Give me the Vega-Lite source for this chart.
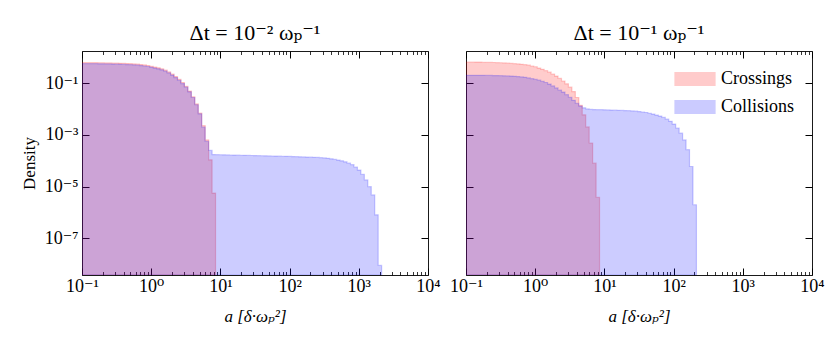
{
"$schema": "https://vega.github.io/schema/vega-lite/v6.json",
"background": "white",
"padding": {"left": 19, "top": 21, "right": 5, "bottom": 5},
"bounds": "flush",
"spacing": 38,
"config": {
  "font": "Liberation Serif, DejaVu Serif, serif",
  "view": {"stroke": "#1a1a1a", "strokeWidth": 1},
  "axis": {"domain": false, "grid": false, "labelFont": "Liberation Serif, DejaVu Serif, serif", "labelFontSize": 18, "labelColor": "#000", "titleFont": "Liberation Serif, DejaVu Serif, serif", "titleFontSize": 17, "titleFontWeight": "normal", "titleColor": "#000", "tickColor": "#000"},
  "legend": {"labelFont": "Liberation Serif, DejaVu Serif, serif"},
  "title": {"font": "Liberation Serif, DejaVu Serif, serif", "fontSize": 22, "fontWeight": "normal", "color": "#000", "frame": "group", "offset": 6}
},
"datasets": {"hist": [
{"p":"L","s":"Crossings","a":0.0955,"d":0.631},{"p":"L","s":"Crossings","a":0.10715,"d":0.631},{"p":"L","s":"Crossings","a":0.12023,"d":0.631},{"p":"L","s":"Crossings","a":0.1349,"d":0.631},{"p":"L","s":"Crossings","a":0.15136,"d":0.631},{"p":"L","s":"Crossings","a":0.16982,"d":0.6237},{"p":"L","s":"Crossings","a":0.19055,"d":0.6237},{"p":"L","s":"Crossings","a":0.2138,"d":0.6166},{"p":"L","s":"Crossings","a":0.23988,"d":0.6166},{"p":"L","s":"Crossings","a":0.26915,"d":0.6095},{"p":"L","s":"Crossings","a":0.302,"d":0.6026},{"p":"L","s":"Crossings","a":0.33884,"d":0.5957},{"p":"L","s":"Crossings","a":0.38019,"d":0.5888},{"p":"L","s":"Crossings","a":0.42658,"d":0.5821},{"p":"L","s":"Crossings","a":0.47863,"d":0.5754},{"p":"L","s":"Crossings","a":0.53703,"d":0.5623},{"p":"L","s":"Crossings","a":0.60256,"d":0.5495},{"p":"L","s":"Crossings","a":0.67608,"d":0.5309},{"p":"L","s":"Crossings","a":0.75858,"d":0.5129},{"p":"L","s":"Crossings","a":0.85114,"d":0.4898},{"p":"L","s":"Crossings","a":0.95499,"d":0.4571},{"p":"L","s":"Crossings","a":1.0715,"d":0.4266},{"p":"L","s":"Crossings","a":1.2023,"d":0.3981},{"p":"L","s":"Crossings","a":1.349,"d":0.3631},{"p":"L","s":"Crossings","a":1.5136,"d":0.3236},{"p":"L","s":"Crossings","a":1.6982,"d":0.2754},{"p":"L","s":"Crossings","a":1.9055,"d":0.2291},{"p":"L","s":"Crossings","a":2.138,"d":0.182},{"p":"L","s":"Crossings","a":2.3988,"d":0.1413},{"p":"L","s":"Crossings","a":2.6915,"d":0.1072},{"p":"L","s":"Crossings","a":3.02,"d":0.07586},{"p":"L","s":"Crossings","a":3.3884,"d":0.05012},{"p":"L","s":"Crossings","a":3.8019,"d":0.0302},{"p":"L","s":"Crossings","a":4.2658,"d":0.01585},{"p":"L","s":"Crossings","a":4.7863,"d":0.007079},{"p":"L","s":"Crossings","a":5.3703,"d":0.002291},{"p":"L","s":"Crossings","a":6.0256,"d":0.0006457},{"p":"L","s":"Crossings","a":6.7608,"d":0.0001096},{"p":"L","s":"Crossings","a":7.5858,"d":0.000005623},{"p":"L","s":"Crossings","a":8.5114,"d":0.000005623},
{"p":"L","s":"Collisions","a":0.0955,"d":0.5754},{"p":"L","s":"Collisions","a":0.10715,"d":0.5754},{"p":"L","s":"Collisions","a":0.12023,"d":0.5754},{"p":"L","s":"Collisions","a":0.1349,"d":0.5754},{"p":"L","s":"Collisions","a":0.15136,"d":0.5754},{"p":"L","s":"Collisions","a":0.16982,"d":0.5689},{"p":"L","s":"Collisions","a":0.19055,"d":0.5689},{"p":"L","s":"Collisions","a":0.2138,"d":0.5623},{"p":"L","s":"Collisions","a":0.23988,"d":0.5623},{"p":"L","s":"Collisions","a":0.26915,"d":0.5559},{"p":"L","s":"Collisions","a":0.302,"d":0.5495},{"p":"L","s":"Collisions","a":0.33884,"d":0.5433},{"p":"L","s":"Collisions","a":0.38019,"d":0.537},{"p":"L","s":"Collisions","a":0.42658,"d":0.5309},{"p":"L","s":"Collisions","a":0.47863,"d":0.5248},{"p":"L","s":"Collisions","a":0.53703,"d":0.5129},{"p":"L","s":"Collisions","a":0.60256,"d":0.5012},{"p":"L","s":"Collisions","a":0.67608,"d":0.4842},{"p":"L","s":"Collisions","a":0.75858,"d":0.4677},{"p":"L","s":"Collisions","a":0.85114,"d":0.4467},{"p":"L","s":"Collisions","a":0.95499,"d":0.4169},{"p":"L","s":"Collisions","a":1.0715,"d":0.389},{"p":"L","s":"Collisions","a":1.2023,"d":0.3631},{"p":"L","s":"Collisions","a":1.349,"d":0.3311},{"p":"L","s":"Collisions","a":1.5136,"d":0.2951},{"p":"L","s":"Collisions","a":1.6982,"d":0.2512},{"p":"L","s":"Collisions","a":1.9055,"d":0.2089},{"p":"L","s":"Collisions","a":2.138,"d":0.166},{"p":"L","s":"Collisions","a":2.3988,"d":0.1288},{"p":"L","s":"Collisions","a":2.6915,"d":0.09772},{"p":"L","s":"Collisions","a":3.02,"d":0.07079},{"p":"L","s":"Collisions","a":3.3884,"d":0.04677},{"p":"L","s":"Collisions","a":3.8019,"d":0.02818},{"p":"L","s":"Collisions","a":4.2658,"d":0.01479},{"p":"L","s":"Collisions","a":4.7863,"d":0.006607},{"p":"L","s":"Collisions","a":5.3703,"d":0.001995},{"p":"L","s":"Collisions","a":6.0256,"d":0.0005623},{"p":"L","s":"Collisions","a":6.7608,"d":0.0002512},{"p":"L","s":"Collisions","a":7.5858,"d":0.0001738},{"p":"L","s":"Collisions","a":8.5114,"d":0.0001726},{"p":"L","s":"Collisions","a":9.5499,"d":0.0001714},{"p":"L","s":"Collisions","a":10.715,"d":0.0001698},{"p":"L","s":"Collisions","a":12.023,"d":0.0001687},{"p":"L","s":"Collisions","a":13.49,"d":0.0001675},{"p":"L","s":"Collisions","a":15.136,"d":0.0001663},{"p":"L","s":"Collisions","a":16.982,"d":0.0001652},{"p":"L","s":"Collisions","a":19.055,"d":0.0001641},{"p":"L","s":"Collisions","a":21.38,"d":0.0001629},{"p":"L","s":"Collisions","a":23.988,"d":0.0001618},{"p":"L","s":"Collisions","a":26.915,"d":0.0001603},{"p":"L","s":"Collisions","a":30.2,"d":0.0001592},{"p":"L","s":"Collisions","a":33.884,"d":0.0001581},{"p":"L","s":"Collisions","a":38.019,"d":0.000157},{"p":"L","s":"Collisions","a":42.658,"d":0.000156},{"p":"L","s":"Collisions","a":47.863,"d":0.0001549},{"p":"L","s":"Collisions","a":53.703,"d":0.0001535},{"p":"L","s":"Collisions","a":60.256,"d":0.0001524},{"p":"L","s":"Collisions","a":67.608,"d":0.0001514},{"p":"L","s":"Collisions","a":75.858,"d":0.0001503},{"p":"L","s":"Collisions","a":85.114,"d":0.0001493},{"p":"L","s":"Collisions","a":95.499,"d":0.0001479},{"p":"L","s":"Collisions","a":107.15,"d":0.0001462},{"p":"L","s":"Collisions","a":120.23,"d":0.0001445},{"p":"L","s":"Collisions","a":134.9,"d":0.0001429},{"p":"L","s":"Collisions","a":151.36,"d":0.0001413},{"p":"L","s":"Collisions","a":169.82,"d":0.0001396},{"p":"L","s":"Collisions","a":190.55,"d":0.000138},{"p":"L","s":"Collisions","a":213.8,"d":0.0001365},{"p":"L","s":"Collisions","a":239.88,"d":0.0001349},{"p":"L","s":"Collisions","a":269.15,"d":0.0001318},{"p":"L","s":"Collisions","a":302,"d":0.0001288},{"p":"L","s":"Collisions","a":338.84,"d":0.0001245},{"p":"L","s":"Collisions","a":380.19,"d":0.0001189},{"p":"L","s":"Collisions","a":426.58,"d":0.0001135},{"p":"L","s":"Collisions","a":478.63,"d":0.0001072},{"p":"L","s":"Collisions","a":537.03,"d":0.0001},{"p":"L","s":"Collisions","a":602.56,"d":0.0000912},{"p":"L","s":"Collisions","a":676.08,"d":0.00008128},{"p":"L","s":"Collisions","a":758.58,"d":0.00007079},{"p":"L","s":"Collisions","a":851.14,"d":0.00005754},{"p":"L","s":"Collisions","a":954.99,"d":0.00004365},{"p":"L","s":"Collisions","a":1071.5,"d":0.0000302},{"p":"L","s":"Collisions","a":1202.3,"d":0.0000182},{"p":"L","s":"Collisions","a":1349,"d":0.00001},{"p":"L","s":"Collisions","a":1513.6,"d":0.000004786},{"p":"L","s":"Collisions","a":1698.2,"d":8.128e-7},{"p":"L","s":"Collisions","a":1905.5,"d":8.913e-9},{"p":"L","s":"Collisions","a":2138,"d":8.913e-9},
{"p":"R","s":"Crossings","a":0.0955,"d":0.668},{"p":"R","s":"Crossings","a":0.10715,"d":0.668},{"p":"R","s":"Crossings","a":0.12023,"d":0.668},{"p":"R","s":"Crossings","a":0.1349,"d":0.6607},{"p":"R","s":"Crossings","a":0.15136,"d":0.6607},{"p":"R","s":"Crossings","a":0.16982,"d":0.6531},{"p":"R","s":"Crossings","a":0.19055,"d":0.6457},{"p":"R","s":"Crossings","a":0.2138,"d":0.6457},{"p":"R","s":"Crossings","a":0.23988,"d":0.6383},{"p":"R","s":"Crossings","a":0.26915,"d":0.631},{"p":"R","s":"Crossings","a":0.302,"d":0.6237},{"p":"R","s":"Crossings","a":0.33884,"d":0.6166},{"p":"R","s":"Crossings","a":0.38019,"d":0.6026},{"p":"R","s":"Crossings","a":0.42658,"d":0.5888},{"p":"R","s":"Crossings","a":0.47863,"d":0.5754},{"p":"R","s":"Crossings","a":0.53703,"d":0.5623},{"p":"R","s":"Crossings","a":0.60256,"d":0.5433},{"p":"R","s":"Crossings","a":0.67608,"d":0.5248},{"p":"R","s":"Crossings","a":0.75858,"d":0.5012},{"p":"R","s":"Crossings","a":0.85114,"d":0.4677},{"p":"R","s":"Crossings","a":0.95499,"d":0.4365},{"p":"R","s":"Crossings","a":1.0715,"d":0.389},{"p":"R","s":"Crossings","a":1.2023,"d":0.3467},{"p":"R","s":"Crossings","a":1.349,"d":0.309},{"p":"R","s":"Crossings","a":1.5136,"d":0.2692},{"p":"R","s":"Crossings","a":1.6982,"d":0.2291},{"p":"R","s":"Crossings","a":1.9055,"d":0.1905},{"p":"R","s":"Crossings","a":2.138,"d":0.1549},{"p":"R","s":"Crossings","a":2.3988,"d":0.123},{"p":"R","s":"Crossings","a":2.6915,"d":0.0955},{"p":"R","s":"Crossings","a":3.02,"d":0.07079},{"p":"R","s":"Crossings","a":3.3884,"d":0.04786},{"p":"R","s":"Crossings","a":3.8019,"d":0.02818},{"p":"R","s":"Crossings","a":4.2658,"d":0.01413},{"p":"R","s":"Crossings","a":4.7863,"d":0.006026},{"p":"R","s":"Crossings","a":5.3703,"d":0.002042},{"p":"R","s":"Crossings","a":6.0256,"d":0.0004898},{"p":"R","s":"Crossings","a":6.7608,"d":0.00008128},{"p":"R","s":"Crossings","a":7.5858,"d":0.00000389},{"p":"R","s":"Crossings","a":8.5114,"d":0.00000389},
{"p":"R","s":"Collisions","a":0.0955,"d":0.2042},{"p":"R","s":"Collisions","a":0.10715,"d":0.2042},{"p":"R","s":"Collisions","a":0.12023,"d":0.2042},{"p":"R","s":"Collisions","a":0.1349,"d":0.2042},{"p":"R","s":"Collisions","a":0.15136,"d":0.2042},{"p":"R","s":"Collisions","a":0.16982,"d":0.2042},{"p":"R","s":"Collisions","a":0.19055,"d":0.2018},{"p":"R","s":"Collisions","a":0.2138,"d":0.2018},{"p":"R","s":"Collisions","a":0.23988,"d":0.1995},{"p":"R","s":"Collisions","a":0.26915,"d":0.1995},{"p":"R","s":"Collisions","a":0.302,"d":0.1972},{"p":"R","s":"Collisions","a":0.33884,"d":0.195},{"p":"R","s":"Collisions","a":0.38019,"d":0.1928},{"p":"R","s":"Collisions","a":0.42658,"d":0.1905},{"p":"R","s":"Collisions","a":0.47863,"d":0.1862},{"p":"R","s":"Collisions","a":0.53703,"d":0.182},{"p":"R","s":"Collisions","a":0.60256,"d":0.1758},{"p":"R","s":"Collisions","a":0.67608,"d":0.1698},{"p":"R","s":"Collisions","a":0.75858,"d":0.1622},{"p":"R","s":"Collisions","a":0.85114,"d":0.1514},{"p":"R","s":"Collisions","a":0.95499,"d":0.1413},{"p":"R","s":"Collisions","a":1.0715,"d":0.1318},{"p":"R","s":"Collisions","a":1.2023,"d":0.1202},{"p":"R","s":"Collisions","a":1.349,"d":0.1072},{"p":"R","s":"Collisions","a":1.5136,"d":0.09333},{"p":"R","s":"Collisions","a":1.6982,"d":0.07943},{"p":"R","s":"Collisions","a":1.9055,"d":0.06607},{"p":"R","s":"Collisions","a":2.138,"d":0.05495},{"p":"R","s":"Collisions","a":2.3988,"d":0.04571},{"p":"R","s":"Collisions","a":2.6915,"d":0.03631},{"p":"R","s":"Collisions","a":3.02,"d":0.02884},{"p":"R","s":"Collisions","a":3.3884,"d":0.02188},{"p":"R","s":"Collisions","a":3.8019,"d":0.0166},{"p":"R","s":"Collisions","a":4.2658,"d":0.01318},{"p":"R","s":"Collisions","a":4.7863,"d":0.01122},{"p":"R","s":"Collisions","a":5.3703,"d":0.01023},{"p":"R","s":"Collisions","a":6.0256,"d":0.009772},{"p":"R","s":"Collisions","a":6.7608,"d":0.009661},{"p":"R","s":"Collisions","a":7.5858,"d":0.00955},{"p":"R","s":"Collisions","a":8.5114,"d":0.00955},{"p":"R","s":"Collisions","a":9.5499,"d":0.009441},{"p":"R","s":"Collisions","a":10.715,"d":0.009333},{"p":"R","s":"Collisions","a":12.023,"d":0.009226},{"p":"R","s":"Collisions","a":13.49,"d":0.00912},{"p":"R","s":"Collisions","a":15.136,"d":0.009016},{"p":"R","s":"Collisions","a":16.982,"d":0.008913},{"p":"R","s":"Collisions","a":19.055,"d":0.00881},{"p":"R","s":"Collisions","a":21.38,"d":0.00871},{"p":"R","s":"Collisions","a":23.988,"d":0.008511},{"p":"R","s":"Collisions","a":26.915,"d":0.008318},{"p":"R","s":"Collisions","a":30.2,"d":0.008035},{"p":"R","s":"Collisions","a":33.884,"d":0.007762},{"p":"R","s":"Collisions","a":38.019,"d":0.007413},{"p":"R","s":"Collisions","a":42.658,"d":0.006918},{"p":"R","s":"Collisions","a":47.863,"d":0.006457},{"p":"R","s":"Collisions","a":53.703,"d":0.005888},{"p":"R","s":"Collisions","a":60.256,"d":0.00537},{"p":"R","s":"Collisions","a":67.608,"d":0.004786},{"p":"R","s":"Collisions","a":75.858,"d":0.004074},{"p":"R","s":"Collisions","a":85.114,"d":0.003388},{"p":"R","s":"Collisions","a":95.499,"d":0.00263},{"p":"R","s":"Collisions","a":107.15,"d":0.001862},{"p":"R","s":"Collisions","a":120.23,"d":0.001175},{"p":"R","s":"Collisions","a":134.9,"d":0.0006457},{"p":"R","s":"Collisions","a":151.36,"d":0.0002692},{"p":"R","s":"Collisions","a":169.82,"d":0.00006026},{"p":"R","s":"Collisions","a":190.55,"d":0.000001995},{"p":"R","s":"Collisions","a":213.8,"d":0.000001995}
]},
"resolve": {"scale": {"x": "independent", "y": "independent", "fill": "independent", "stroke": "independent"}, "legend": {"fill": "independent", "stroke": "independent"}},
"hconcat": [
{
  "width": 346, "height": 224,
  "title": {"text": "Δt = 10⁻² ωₚ⁻¹"},
  "data": {"name": "hist"},
  "transform": [{"filter": "datum.p === 'L'"}],
  "resolve": {"axis": {"x": "independent", "y": "independent"}},
  "layer": [
    {
      "transform": [{"filter": "datum.s === 'Crossings'"}],
      "mark": {"type": "area", "interpolate": "step-after", "fillOpacity": 0.2, "strokeOpacity": 0.2, "strokeWidth": 1.2, "clip": true},
      "encoding": {
        "x": {"field": "a", "type": "quantitative", "scale": {"type": "log", "domain": [0.1, 10000], "nice": false},
          "axis": {"orient": "bottom", "title": "a [δ·ωₚ²]", "titleFontStyle": "italic", "titleFontSize": 17, "titlePadding": 10,
            "values": [0.1,0.2,0.3,0.4,0.5,0.6,0.7,0.8,0.9,1,2,3,4,5,6,7,8,9,10,20,30,40,50,60,70,80,90,100,200,300,400,500,600,700,800,900,1000,2000,3000,4000,5000,6000,7000,8000,9000,10000],
            "labelExpr": "abs(log(datum.value)/LN10-round(log(datum.value)/LN10))<0.001 ? '10'+(round(log(datum.value)/LN10)<0?'⁻':'')+['⁰','¹','²','³','⁴','⁵','⁶','⁷','⁸','⁹'][abs(round(log(datum.value)/LN10))] : ''",
            "labelFlush": false, "labelOverlap": false, "labelPadding": 9,
            "tickSize": {"condition": {"test": "abs(log(datum.value)/LN10-round(log(datum.value)/LN10))<0.001", "value": -7}, "value": -3.5},
            "tickWidth": {"condition": {"test": "abs(log(datum.value)/LN10-round(log(datum.value)/LN10))<0.001", "value": 1}, "value": 0.8}}},
        "y": {"field": "d", "type": "quantitative", "stack": null, "scale": {"type": "log", "domain": [3.8e-9, 1.78], "nice": false},
          "axis": {"orient": "left", "title": "Density", "titlePadding": 6, "values": [1e-7, 1e-5, 1e-3, 1e-1],
            "labelExpr": "'10'+(round(log(datum.value)/LN10)<0?'⁻':'')+['⁰','¹','²','³','⁴','⁵','⁶','⁷','⁸','⁹'][abs(round(log(datum.value)/LN10))]",
            "labelPadding": 11, "tickSize": -7, "labelFlush": false}},
        "fill": {"field": "s", "type": "nominal", "scale": {"domain": ["Crossings", "Collisions"], "range": ["#ff0000", "#0000ff"]}, "legend": null},
        "stroke": {"field": "s", "type": "nominal", "scale": {"domain": ["Crossings", "Collisions"], "range": ["#ff0000", "#0000ff"]}, "legend": null}
      }
    },
    {
      "transform": [{"filter": "datum.s === 'Collisions'"}],
      "mark": {"type": "area", "interpolate": "step-after", "fillOpacity": 0.2, "strokeOpacity": 0.2, "strokeWidth": 1.2, "clip": true},
      "encoding": {
        "x": {"field": "a", "type": "quantitative", "scale": {"type": "log", "domain": [0.1, 10000], "nice": false},
          "axis": {"orient": "top", "title": null, "labels": false,
            "values": [0.1,0.2,0.3,0.4,0.5,0.6,0.7,0.8,0.9,1,2,3,4,5,6,7,8,9,10,20,30,40,50,60,70,80,90,100,200,300,400,500,600,700,800,900,1000,2000,3000,4000,5000,6000,7000,8000,9000,10000],
            "tickSize": {"condition": {"test": "abs(log(datum.value)/LN10-round(log(datum.value)/LN10))<0.001", "value": -7}, "value": -3.5},
            "tickWidth": {"condition": {"test": "abs(log(datum.value)/LN10-round(log(datum.value)/LN10))<0.001", "value": 1}, "value": 0.8}}},
        "y": {"field": "d", "type": "quantitative", "stack": null, "scale": {"type": "log", "domain": [3.8e-9, 1.78], "nice": false},
          "axis": {"orient": "right", "title": null, "labels": false, "values": [1e-7, 1e-5, 1e-3, 1e-1], "tickSize": -7}},
        "fill": {"field": "s", "type": "nominal", "scale": {"domain": ["Crossings", "Collisions"], "range": ["#ff0000", "#0000ff"]}, "legend": null},
        "stroke": {"field": "s", "type": "nominal", "scale": {"domain": ["Crossings", "Collisions"], "range": ["#ff0000", "#0000ff"]}, "legend": null}
      }
    }
  ]
},
{
  "width": 346, "height": 224,
  "title": {"text": "Δt = 10⁻¹ ωₚ⁻¹"},
  "data": {"name": "hist"},
  "transform": [{"filter": "datum.p === 'R'"}],
  "resolve": {"axis": {"x": "independent", "y": "independent"}},
  "layer": [
    {
      "transform": [{"filter": "datum.s === 'Crossings'"}],
      "mark": {"type": "area", "interpolate": "step-after", "fillOpacity": 0.2, "strokeOpacity": 0.2, "strokeWidth": 1.2, "clip": true},
      "encoding": {
        "x": {"field": "a", "type": "quantitative", "scale": {"type": "log", "domain": [0.1, 10000], "nice": false},
          "axis": {"orient": "bottom", "title": "a [δ·ωₚ²]", "titleFontStyle": "italic", "titleFontSize": 17, "titlePadding": 10,
            "values": [0.1,0.2,0.3,0.4,0.5,0.6,0.7,0.8,0.9,1,2,3,4,5,6,7,8,9,10,20,30,40,50,60,70,80,90,100,200,300,400,500,600,700,800,900,1000,2000,3000,4000,5000,6000,7000,8000,9000,10000],
            "labelExpr": "abs(log(datum.value)/LN10-round(log(datum.value)/LN10))<0.001 ? '10'+(round(log(datum.value)/LN10)<0?'⁻':'')+['⁰','¹','²','³','⁴','⁵','⁶','⁷','⁸','⁹'][abs(round(log(datum.value)/LN10))] : ''",
            "labelFlush": false, "labelOverlap": false, "labelPadding": 9,
            "tickSize": {"condition": {"test": "abs(log(datum.value)/LN10-round(log(datum.value)/LN10))<0.001", "value": -7}, "value": -3.5},
            "tickWidth": {"condition": {"test": "abs(log(datum.value)/LN10-round(log(datum.value)/LN10))<0.001", "value": 1}, "value": 0.8}}},
        "y": {"field": "d", "type": "quantitative", "stack": null, "scale": {"type": "log", "domain": [3.8e-9, 1.78], "nice": false},
          "axis": {"orient": "left", "title": null, "labels": false, "values": [1e-7, 1e-5, 1e-3, 1e-1], "tickSize": -7}},
        "fill": {"field": "s", "type": "nominal", "scale": {"domain": ["Crossings", "Collisions"], "range": ["#ff0000", "#0000ff"]},
          "legend": {"title": null, "orient": "top-right", "offset": 17, "symbolType": "M-2,-0.65H2V0.65H-2Z", "symbolSize": 400, "symbolStrokeWidth": 1.2, "symbolOpacity": 0.2, "labelFontSize": 18, "labelColor": "#000", "labelOffset": 15, "rowPadding": 8}},
        "stroke": {"field": "s", "type": "nominal", "scale": {"domain": ["Crossings", "Collisions"], "range": ["#ff0000", "#0000ff"]},
          "legend": {"title": null, "orient": "top-right", "offset": 17, "symbolType": "M-2,-0.65H2V0.65H-2Z", "symbolSize": 400, "symbolStrokeWidth": 1.2, "symbolOpacity": 0.2, "labelFontSize": 18, "labelColor": "#000", "labelOffset": 15, "rowPadding": 8}}
      }
    },
    {
      "transform": [{"filter": "datum.s === 'Collisions'"}],
      "mark": {"type": "area", "interpolate": "step-after", "fillOpacity": 0.2, "strokeOpacity": 0.2, "strokeWidth": 1.2, "clip": true},
      "encoding": {
        "x": {"field": "a", "type": "quantitative", "scale": {"type": "log", "domain": [0.1, 10000], "nice": false},
          "axis": {"orient": "top", "title": null, "labels": false,
            "values": [0.1,0.2,0.3,0.4,0.5,0.6,0.7,0.8,0.9,1,2,3,4,5,6,7,8,9,10,20,30,40,50,60,70,80,90,100,200,300,400,500,600,700,800,900,1000,2000,3000,4000,5000,6000,7000,8000,9000,10000],
            "tickSize": {"condition": {"test": "abs(log(datum.value)/LN10-round(log(datum.value)/LN10))<0.001", "value": -7}, "value": -3.5},
            "tickWidth": {"condition": {"test": "abs(log(datum.value)/LN10-round(log(datum.value)/LN10))<0.001", "value": 1}, "value": 0.8}}},
        "y": {"field": "d", "type": "quantitative", "stack": null, "scale": {"type": "log", "domain": [3.8e-9, 1.78], "nice": false},
          "axis": {"orient": "right", "title": null, "labels": false, "values": [1e-7, 1e-5, 1e-3, 1e-1], "tickSize": -7}},
        "fill": {"field": "s", "type": "nominal", "scale": {"domain": ["Crossings", "Collisions"], "range": ["#ff0000", "#0000ff"]},
          "legend": {"title": null, "orient": "top-right", "offset": 17, "symbolType": "M-2,-0.65H2V0.65H-2Z", "symbolSize": 400, "symbolStrokeWidth": 1.2, "symbolOpacity": 0.2, "labelFontSize": 18, "labelColor": "#000", "labelOffset": 15, "rowPadding": 8}},
        "stroke": {"field": "s", "type": "nominal", "scale": {"domain": ["Crossings", "Collisions"], "range": ["#ff0000", "#0000ff"]},
          "legend": {"title": null, "orient": "top-right", "offset": 17, "symbolType": "M-2,-0.65H2V0.65H-2Z", "symbolSize": 400, "symbolStrokeWidth": 1.2, "symbolOpacity": 0.2, "labelFontSize": 18, "labelColor": "#000", "labelOffset": 15, "rowPadding": 8}}
      }
    }
  ]
}
]
}
